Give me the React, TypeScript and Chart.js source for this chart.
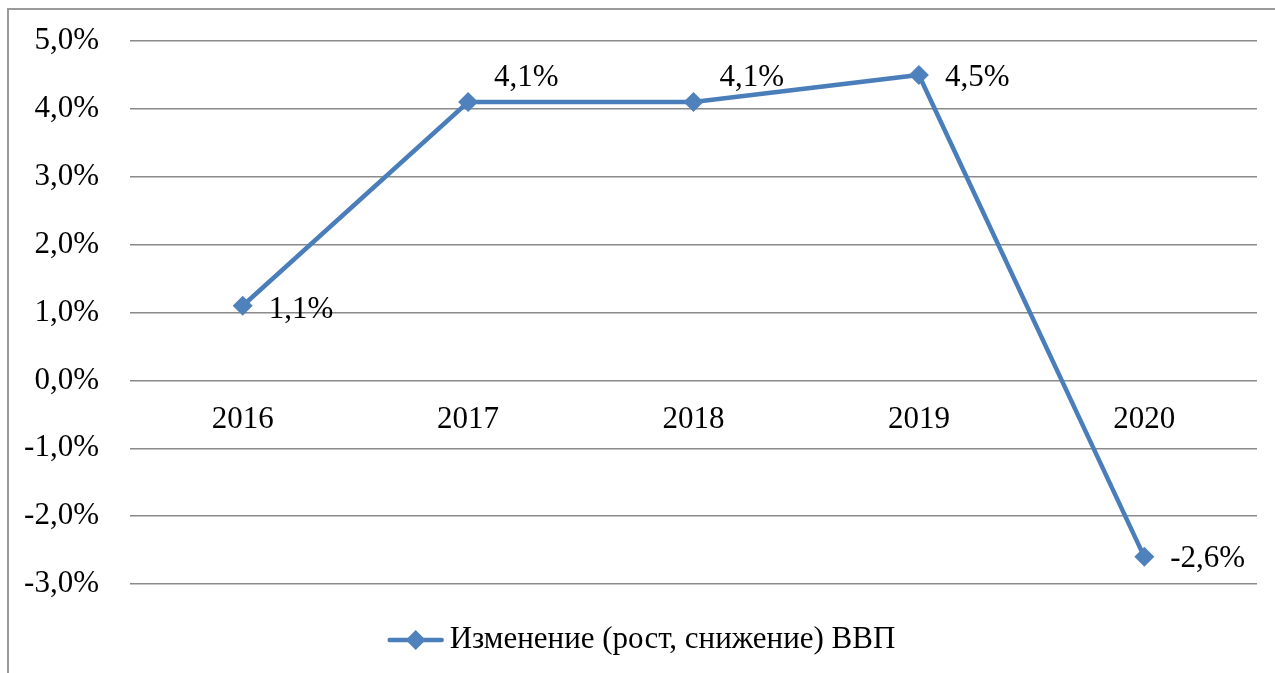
import React, { useEffect, useRef } from 'react';
import { Chart, registerables } from 'chart.js';
Chart.register(...registerables);

const years = ['2016', '2017', '2018', '2019', '2020'];
const gdpChange = [1.1, 4.1, 4.1, 4.5, -2.6];
const yMin = -3;
const yMax = 5;
const yStep = 1;
const seriesName = 'Изменение (рост, снижение) ВВП';

const FONT = "'Liberation Serif', 'Times New Roman', serif";
const FONT_SIZE = 31;
const LINE_COLOR = '#4A7EBB';
const MARKER_COLOR = '#4F81BD';
const labelDy = [4, -24, -24, 3, 2];

const fmt = (v: number) => v.toFixed(1).replace('.', ',') + '%';

const dataLabelPlugin = {
  id: 'dataLabels',
  afterDatasetsDraw(chart: any) {
    const ctx = chart.ctx;
    const meta = chart.getDatasetMeta(0);
    ctx.save();
    ctx.font = `${FONT_SIZE}px ${FONT}`;
    ctx.fillStyle = '#000';
    ctx.textAlign = 'left';
    ctx.textBaseline = 'middle';
    meta.data.forEach((pt: any, i: number) => {
      ctx.fillText(fmt(gdpChange[i]), pt.x + 26, pt.y + labelDy[i]);
    });
    ctx.restore();
  },
};

const legendPlugin = {
  id: 'customLegend',
  afterDraw(chart: any) {
    const ctx = chart.ctx;
    ctx.save();
    ctx.font = `${FONT_SIZE}px ${FONT}`;
    const tw = ctx.measureText(seriesName).width;
    const lineW = 52;
    const gap = 8;
    const total = lineW + gap + tw;
    const x0 = chart.width / 2 + 5 - total / 2;
    const y = 640;
    ctx.strokeStyle = LINE_COLOR;
    ctx.lineWidth = 4.5;
    ctx.lineCap = 'round';
    ctx.beginPath();
    ctx.moveTo(x0, y);
    ctx.lineTo(x0 + lineW, y);
    ctx.stroke();
    const cx = x0 + lineW / 2;
    const r = 10;
    ctx.fillStyle = MARKER_COLOR;
    ctx.beginPath();
    ctx.moveTo(cx, y - r);
    ctx.lineTo(cx + r, y);
    ctx.lineTo(cx, y + r);
    ctx.lineTo(cx - r, y);
    ctx.closePath();
    ctx.fill();
    ctx.fillStyle = '#000';
    ctx.textAlign = 'left';
    ctx.textBaseline = 'middle';
    ctx.fillText(seriesName, x0 + lineW + gap, y);
    ctx.restore();
  },
};

export default function App() {
  const ref = useRef<HTMLCanvasElement>(null);
  useEffect(() => {
    if (!ref.current) return;
    const chart = new Chart(ref.current, {
      type: 'line',
      data: {
        labels: years,
        datasets: [
          {
            label: seriesName,
            data: gdpChange,
            borderColor: LINE_COLOR,
            borderWidth: 4.5,
            backgroundColor: MARKER_COLOR,
            pointStyle: 'rectRot',
            pointRadius: 10,
            pointBorderWidth: 0,
            pointBackgroundColor: MARKER_COLOR,
            pointBorderColor: MARKER_COLOR,
            tension: 0,
            fill: false,
          },
        ],
      },
      options: {
        animation: false,
        responsive: false,
        maintainAspectRatio: false,
        events: [],
        layout: { padding: { left: 0, right: 18, top: 41, bottom: 89 } },
        plugins: {
          legend: { display: false },
          tooltip: { enabled: false },
        },
        scales: {
          x: {
            type: 'category',
            position: { y: 0 } as any,
            offset: true,
            grid: { display: false, drawTicks: false },
            border: { display: false },
            ticks: {
              font: { family: FONT, size: FONT_SIZE },
              color: '#000',
              padding: 21,
              maxRotation: 0,
            },
          },
          y: {
            min: yMin,
            max: yMax,
            afterFit: (scale: any) => {
              scale.width = 130;
            },
            grid: {
              color: '#8a8a8a',
              lineWidth: 1.5,
              drawTicks: true,
              tickLength: 31,
              tickColor: 'rgba(0,0,0,0)',
            },
            border: { display: false },
            ticks: {
              stepSize: yStep,
              font: { family: FONT, size: FONT_SIZE },
              color: '#000',
              padding: 0,
              callback: (v: any) => fmt(Number(v)),
            },
          },
        },
      },
      plugins: [dataLabelPlugin, legendPlugin],
    });
    return () => chart.destroy();
  }, []);

  return (
    <div style={{ position: 'fixed', left: 0, top: 0, width: 1275, height: 673, background: '#fff', overflow: 'hidden' }}>
      <div
        style={{
          position: 'absolute',
          left: 7,
          top: 8,
          width: 1320,
          height: 720,
          border: '2px solid #9a9a9a',
          boxSizing: 'border-box',
        }}
      />
      <canvas ref={ref} width={1275} height={673} style={{ position: 'absolute', left: 0, top: 0, width: 1275, height: 673 }} />
    </div>
  );
}
